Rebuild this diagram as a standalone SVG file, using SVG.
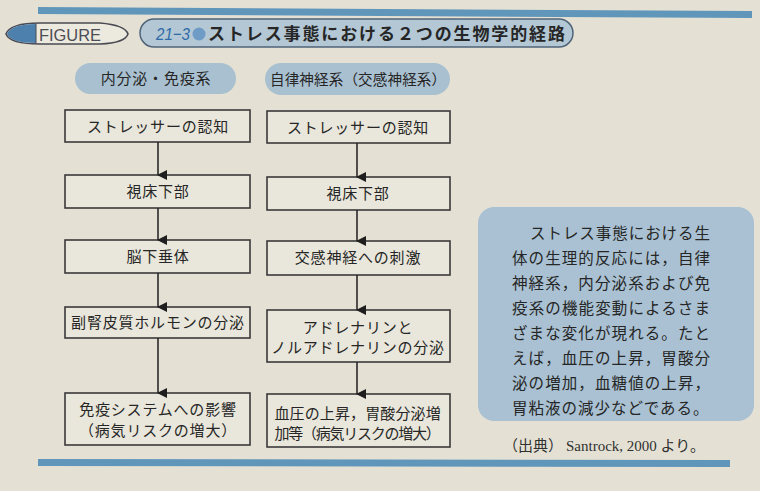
<svg xmlns="http://www.w3.org/2000/svg" width="760" height="491" viewBox="0 0 760 491">
<defs>
<style>
.jp{font-family:"Noto Sans CJK JP","Noto Sans",sans-serif;fill:#262626}
.box{fill:#e9e6db;stroke:#3a3a3a;stroke-width:1.6}
.bt{font-size:15px;text-anchor:middle;letter-spacing:0.8px}
.hd{fill:#a9c0d0}
.conn{stroke:#2a2a2a;stroke-width:1.6;fill:none;marker-end:url(#ah)}
.side{font-size:15.5px;letter-spacing:1px}
</style>
<marker id="ah" markerWidth="10" markerHeight="10" refX="5" refY="9" orient="auto" markerUnits="userSpaceOnUse" viewBox="0 0 10 10">
<path d="M0,0 L10,0 L5,10 Z" fill="#1e1e1e"/>
</marker>
</defs>
<rect width="760" height="491" fill="#e4e1d4"/>
<polygon points="38,7 752,11 752,18 38,14" fill="#6196bb"/>
<polygon points="38,459 730,460 730,467 38,466" fill="#6196bb"/>

<g id="figure-tag">
<path d="M6,34 Q10,23 40,23 L100,23 Q125,25 128,34 Q125,43 100,44 L40,44 Q10,44 6,34 Z" fill="#ece9df" stroke="#4a4a52" stroke-width="1.6"/>
<path d="M7,34 Q11,24 36,24 L36,43 Q11,43 7,34 Z" fill="#4e80ad"/>
<line x1="36" y1="24" x2="36" y2="43" stroke="#4a4a52" stroke-width="1"/>
<text x="39" y="40.5" font-family="Liberation Sans, Arial, sans-serif" font-size="16" fill="#4d4d55" textLength="62" lengthAdjust="spacingAndGlyphs">FIGURE</text>
</g>

<g id="title">
<rect x="140" y="19" width="433" height="28" rx="14" fill="#b3c7d5" stroke="#50647a" stroke-width="1.5"/>
<text x="156" y="40" font-family="Liberation Sans, Arial, sans-serif" font-size="17" font-style="italic" fill="#2f6aa6" textLength="34" lengthAdjust="spacingAndGlyphs">21−3</text>
<circle cx="199" cy="34" r="6.5" fill="#6e9cc6"/>
<text x="208" y="40" class="jp" font-size="17" font-weight="bold" textLength="357" lengthAdjust="spacing">ストレス事態における２つの生物学的経路</text>
</g>

<g id="header-left">
<rect x="75" y="63" width="161" height="31" rx="15.5" class="hd"/>
<text x="156" y="84" class="jp bt">内分泌・免疫系</text>
</g>
<g id="header-right">
<rect x="265" y="63" width="185" height="32" rx="16" class="hd"/>
<text x="358" y="85" class="jp" font-size="14.5" text-anchor="middle" textLength="176" lengthAdjust="spacing">自律神経系（交感神経系）</text>
</g>

<g id="L1"><rect x="65" y="110" width="185" height="32" class="box"/><text x="158" y="132" class="jp bt">ストレッサーの認知</text></g>
<g id="L2"><rect x="65" y="175" width="185" height="33" class="box"/><text x="158" y="197" class="jp bt">視床下部</text></g>
<g id="L3"><rect x="65" y="240" width="185" height="33" class="box"/><text x="158" y="262" class="jp bt">脳下垂体</text></g>
<g id="L4"><rect x="65" y="307" width="185" height="31" class="box"/><text x="158" y="328" class="jp bt">副腎皮質ホルモンの分泌</text></g>
<g id="L5"><rect x="65" y="393" width="185" height="52" class="box"/><text x="158" y="415" class="jp bt">免疫システムへの影響</text><text x="158" y="436" class="jp bt">（病気リスクの増大）</text></g>

<g id="R1"><rect x="267" y="111" width="183" height="32" class="box"/><text x="358" y="133" class="jp bt">ストレッサーの認知</text></g>
<g id="R2"><rect x="267" y="177" width="183" height="33" class="box"/><text x="358" y="199" class="jp bt">視床下部</text></g>
<g id="R3"><rect x="267" y="241" width="183" height="34" class="box"/><text x="358" y="263" class="jp bt">交感神経への刺激</text></g>
<g id="R4"><rect x="267" y="310" width="183" height="52" class="box"/><text x="358" y="333" class="jp bt">アドレナリンと</text><text x="358" y="353" class="jp bt">ノルアドレナリンの分泌</text></g>
<g id="R5"><rect x="267" y="394" width="183" height="53" class="box"/><text x="358" y="419" class="jp bt" textLength="167" lengthAdjust="spacing">血圧の上昇，胃酸分泌増</text><text x="358" y="439" class="jp bt" textLength="167" lengthAdjust="spacing">加等（病気リスクの増大）</text></g>

<g id="connectors">
<line x1="158" y1="142" x2="158" y2="175" class="conn"/>
<line x1="158" y1="208" x2="158" y2="240" class="conn"/>
<line x1="158" y1="273" x2="158" y2="307" class="conn"/>
<line x1="158" y1="338" x2="158" y2="393" class="conn"/>
<line x1="357" y1="143" x2="357" y2="177" class="conn"/>
<line x1="357" y1="210" x2="357" y2="241" class="conn"/>
<line x1="357" y1="275" x2="357" y2="310" class="conn"/>
<line x1="357" y1="362" x2="357" y2="394" class="conn"/>
</g>

<g id="note">
<rect x="478" y="207" width="276" height="214" rx="16" fill="#a9c1d2"/>
<text class="jp side">
<tspan x="530" y="239" textLength="181" lengthAdjust="spacing">ストレス事態における生</tspan>
<tspan x="512" y="264" textLength="199" lengthAdjust="spacing">体の生理的反応には，自律</tspan>
<tspan x="512" y="289" textLength="199" lengthAdjust="spacing">神経系，内分泌系および免</tspan>
<tspan x="512" y="314" textLength="199" lengthAdjust="spacing">疫系の機能変動によるさま</tspan>
<tspan x="512" y="339" textLength="199" lengthAdjust="spacing">ざまな変化が現れる。たと</tspan>
<tspan x="512" y="364" textLength="199" lengthAdjust="spacing">えば，血圧の上昇，胃酸分</tspan>
<tspan x="512" y="389" textLength="199" lengthAdjust="spacing">泌の増加，血糖値の上昇，</tspan>
<tspan x="512" y="414">胃粘液の減少などである。</tspan>
</text>
</g>

<g id="source">
<text y="451" font-size="15" fill="#303030" font-family="Liberation Serif, 'Noto Sans CJK JP', serif"><tspan x="503">（出典）</tspan><tspan x="566">Santrock, 2000 より。</tspan></text>
</g>
</svg>
